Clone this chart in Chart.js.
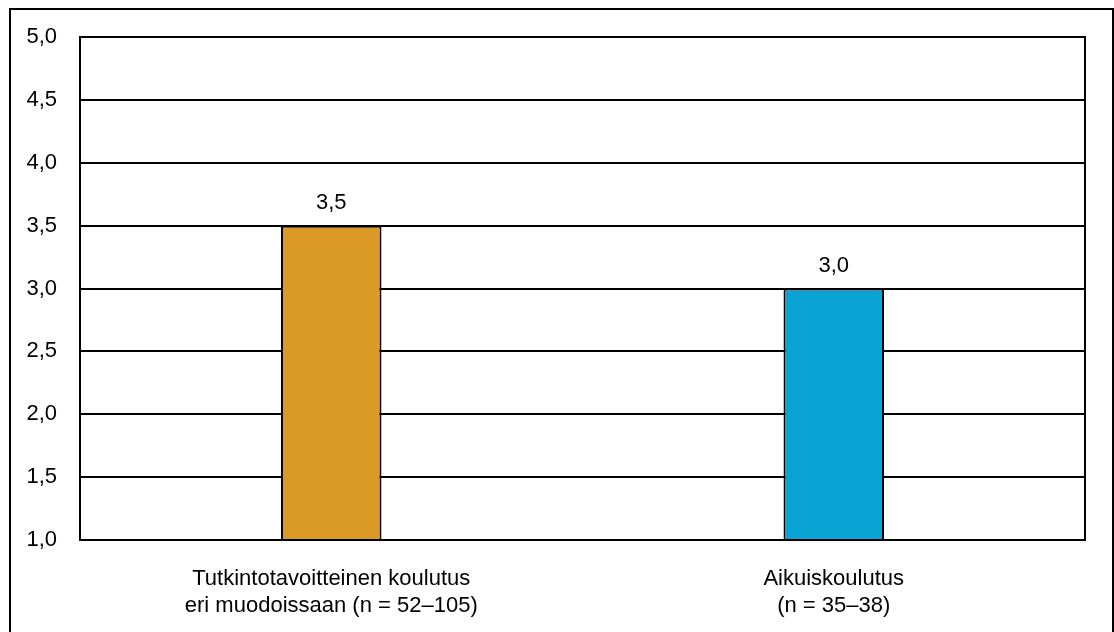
<!DOCTYPE html>
<html>
<head>
<meta charset="utf-8">
<script src="https://cdn.jsdelivr.net/npm/chart.js@4/dist/chart.umd.min.js"></script>
<style>
  body { margin: 0; background: #fff; }
  #wrap { position: relative; width: 1114px; height: 632px; overflow: hidden; }
  #frame { position: absolute; left: 9px; top: 8px; width: 1105px; height: 640px; border: 2px solid #000; box-sizing: border-box; }
  canvas { position: absolute; left: 0; top: 0; }
</style>
</head>
<body>
<div id="wrap">
  <div id="frame"></div>
  <canvas id="barChart" width="1114" height="632"></canvas>
</div>
<script>
const categories = [
  ["Tutkintotavoitteinen koulutus", "eri muodoissaan (n = 52–105)"],
  ["Aikuiskoulutus", "(n = 35–38)"],
];
const values = [3.5, 3.0];
const barColors = ["#DB9A26", "#0AA3D4"];

const FONT = "'Liberation Sans', Arial, sans-serif";
const fmt = (v) => v.toFixed(1).replace(".", ",");

// kehys kuvaajan alueen ympärille + arvot pylväiden yläpuolelle
const extras = {
  id: "extras",
  afterDraw(chart) {
    const { ctx, chartArea: a } = chart;
    ctx.save();
    ctx.strokeStyle = "#000";
    ctx.lineWidth = 2;
    ctx.strokeRect(a.left, a.top, a.right - a.left, a.bottom - a.top);
    ctx.fillStyle = "#000";
    ctx.font = "22px " + FONT;
    ctx.textAlign = "center";
    ctx.textBaseline = "alphabetic";
    chart.getDatasetMeta(0).data.forEach((bar, i) => {
      ctx.fillText(fmt(values[i]), bar.x, bar.y - 17);
    });
    ctx.restore();
  },
};

new Chart(document.getElementById("barChart"), {
  type: "bar",
  data: {
    labels: categories,
    datasets: [
      {
        data: values,
        backgroundColor: barColors,
        borderColor: "#000",
        borderWidth: 2,
        barPercentage: 0.4,
        categoryPercentage: 0.5,
      },
    ],
  },
  options: {
    responsive: false,
    animation: false,
    layout: { padding: { left: 0, right: 29, top: 37, bottom: 0 } },
    plugins: { legend: { display: false }, tooltip: { enabled: false } },
    scales: {
      x: {
        grid: { display: false, drawTicks: false },
        border: { color: "#000", width: 2 },
        ticks: {
          color: "#000",
          padding: 25,
          font: { family: FONT, size: 22, lineHeight: 1.23 },
        },
        afterFit(scale) { scale.height = 92; },
      },
      y: {
        min: 1,
        max: 5,
        ticks: {
          stepSize: 0.5,
          color: "#000",
          padding: 23,
          callback: (v) => fmt(v),
          font: { family: FONT, size: 22 },
        },
        grid: { color: "#000", lineWidth: 2, drawTicks: false },
        border: { color: "#000", width: 2 },
        afterFit(scale) { scale.width = 80; },
      },
    },
  },
  plugins: [extras],
});
</script>
</body>
</html>
